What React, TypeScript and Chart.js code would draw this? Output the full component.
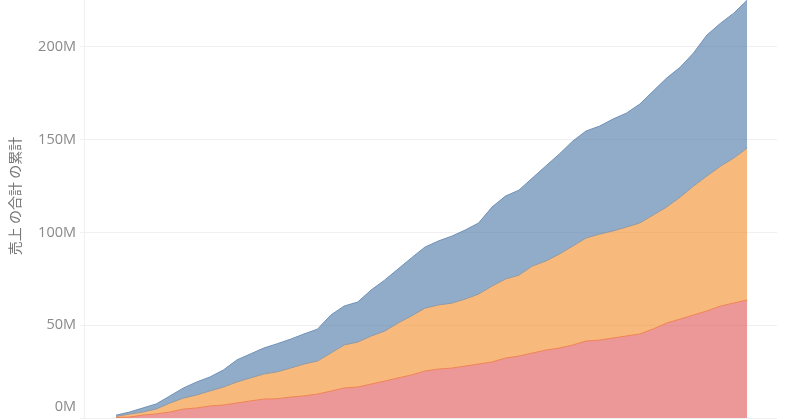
import React, { useEffect, useRef } from "react";
import { Chart, registerables } from "chart.js";

Chart.register(...registerables);

// 48 months (cumulative sales, millions)
const months: string[] = [];
for (const y of [2015, 2016, 2017, 2018]) {
  for (let m = 1; m <= 12; m++) months.push(`${y}年${m}月`);
}

const seriesNames = ["事務用品", "家電", "家具"];

const redValues = [0.3, 0.5, 1.6, 2.2, 3.2, 4.8, 5.4, 6.5, 7.0, 8.1, 9.2, 10.2, 10.4, 11.3, 11.9, 12.9, 14.5, 16.2, 16.7, 18.3, 19.9, 21.6, 23.2, 25.3, 26.4, 26.9, 28.0, 29.1, 30.2, 32.3, 33.4, 35.0, 36.6, 37.7, 39.3, 41.5, 42.0, 43.1, 44.2, 45.3, 48.0, 51.2, 53.3, 55.5, 57.7, 60.3, 62.0, 63.6];
const orangeValues = [0.6, 1.6, 1.6, 2.7, 4.8, 5.9, 7.0, 8.1, 9.7, 11.3, 12.4, 13.5, 14.5, 15.6, 17.2, 17.8, 20.5, 23.2, 24.2, 25.9, 26.9, 29.6, 31.8, 33.9, 34.5, 35.0, 36.1, 37.7, 40.9, 42.6, 43.6, 46.9, 48.0, 50.6, 53.3, 55.5, 57.1, 57.7, 58.7, 59.8, 61.4, 62.5, 65.7, 69.5, 72.7, 75.4, 78.1, 81.9];
const blueValues = [0.6, 1.1, 2.2, 2.7, 3.8, 5.4, 7.0, 7.5, 9.2, 11.9, 12.9, 14.0, 15.1, 15.6, 16.2, 17.2, 20.5, 21.0, 21.6, 24.8, 27.5, 29.1, 31.3, 32.9, 34.5, 36.1, 37.2, 38.3, 42.6, 44.7, 45.8, 47.4, 51.2, 53.9, 56.6, 57.7, 58.2, 60.3, 61.4, 64.1, 66.8, 69.5, 70.0, 71.7, 76.0, 77.0, 78.1, 79.7];

const yTicks = [0, 50, 100, 150, 200];
const yTitle = "売上 の合計 の累計";

const fillColors = ["rgba(225,87,89,0.62)", "rgba(242,142,43,0.62)", "rgba(78,121,167,0.62)"];
const lineColors = ["#ef8450", "#8d98a6", "#7090b6"];

const toPoints = (vals: number[]) => vals.map((v, i) => ({ x: i, y: v }));

export default function App() {
  const ref = useRef<HTMLCanvasElement>(null);
  useEffect(() => {
    const canvas = ref.current!;
    const titlePlugin = {
      id: "yTitle",
      afterDraw(chart: any) {
        const ctx = chart.ctx;
        ctx.save();
        ctx.translate(15, 196);
        ctx.rotate(-Math.PI / 2);
        ctx.font = '14px "Noto Sans CJK JP", sans-serif';
        ctx.fillStyle = "#777777";
        ctx.textAlign = "center";
        ctx.textBaseline = "middle";
        ctx.fillText(yTitle, 0, 0);
        ctx.restore();
      },
    };
    const series = [redValues, orangeValues, blueValues];
    const chart = new Chart(canvas, {
      type: "line",
      data: {
        datasets: series.map((vals, i) => ({
          label: seriesNames[i],
          data: toPoints(vals),
          backgroundColor: fillColors[i],
          borderColor: lineColors[i],
          borderWidth: 1,
          pointRadius: 0,
          tension: 0,
          fill: i === 0 ? "origin" : "-1",
        })),
      },
      options: {
        animation: false,
        responsive: true,
        maintainAspectRatio: false,
        layout: { padding: { left: 0, right: 23, top: 0, bottom: 1 }, autoPadding: false },
        plugins: { legend: { display: false }, tooltip: { enabled: false } },
        scales: {
          x: {
            type: "linear",
            display: false,
            min: -2.383,
            max: 49.22,
          },
          y: {
            stacked: true,
            min: 0,
            max: 225.3,
            afterFit(scale: any) {
              scale.width = 84;
              scale.paddingTop = 0;
              scale.paddingBottom = 0;
            },
            afterBuildTicks(scale: any) {
              scale.ticks = yTicks.map((v) => ({ value: v }));
            },
            ticks: {
              includeBounds: false,
              padding: 4,
              color: "#8a8a8a",
              font: { family: '"Open Sans", sans-serif', size: 14.5, lineHeight: 1.5 },
              callback: (v: any) => (Number(v) === 0 ? ["0M", ""] : `${v}M`),
            },
            grid: {
              color: "#f0f0f0",
              tickColor: "#f0f0f0",
              tickLength: 4,
              drawTicks: true,
            },
            border: { display: true, color: "#f0f0f0" },
          },
        },
      },
      plugins: [titlePlugin],
    });
    return () => chart.destroy();
  }, []);
  return (
    <div style={{ position: "fixed", left: 0, top: 0, width: 800, height: 419, background: "#fff" }}>
      <canvas ref={ref} />
    </div>
  );
}
